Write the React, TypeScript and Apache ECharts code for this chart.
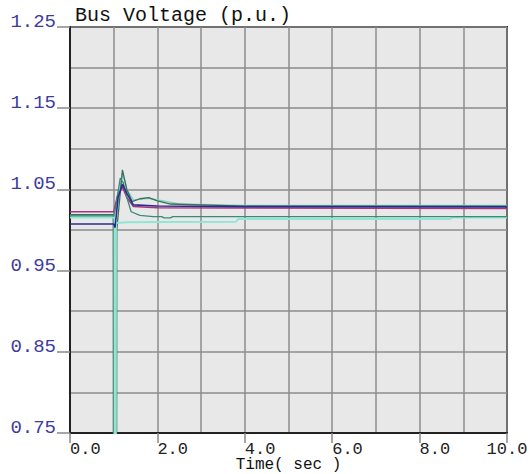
import React, { useEffect, useRef } from "react";
import * as echarts from "echarts";

// Bus voltage traces (time in s, voltage in p.u.)
const busA: [number, number][] = [
  [0, 1.0225], [1.0, 1.0225], [1.1, 1.045], [1.2, 1.053], [1.3, 1.04],
  [1.45, 1.029], [2.0, 1.0275], [4.0, 1.027], [7.0, 1.0268], [10.0, 1.0265],
];
const busB: [number, number][] = [
  [0, 1.0074], [1.0, 1.0074], [1.03, 1.003], [1.1, 1.04], [1.2, 1.0566],
  [1.3, 1.045], [1.45, 1.031], [2.0, 1.0295], [4.0, 1.0288], [10.0, 1.0285],
];
const busC: [number, number][] = [
  [0, 1.019], [0.99, 1.019], [0.995, 0.5], [1.065, 0.5], [1.07, 1.0],
  [1.2, 1.074], [1.3, 1.05], [1.42, 1.035], [1.6, 1.0385], [1.8, 1.0398],
  [2.0, 1.036], [2.3, 1.032], [3.0, 1.031], [4.0, 1.0295], [10.0, 1.0295],
];
const busD: [number, number][] = [
  [0, 1.0175], [1.0, 1.0175], [1.05, 1.03], [1.15, 1.064], [1.22, 1.058],
  [1.3, 1.04], [1.4, 1.0225], [1.6, 1.018], [1.9, 1.0165], [2.1, 1.0165],
  [2.15, 1.015], [2.3, 1.015], [2.35, 1.0165], [10.0, 1.0165],
];
const busE: [number, number][] = [
  [0, 1.018], [1.0, 1.018], [1.08, 1.03], [1.2, 1.07], [1.3, 1.05],
  [1.45, 1.037], [1.8, 1.039], [2.5, 1.032], [4.0, 1.0302], [10.0, 1.0302],
];
const busF: [number, number][] = [
  [0, 1.0155], [1.02, 1.0155], [1.025, 0.5], [1.045, 0.5], [1.05, 1.0085],
  [1.3, 1.0095], [2.0, 1.01], [3.8, 1.0103], [3.85, 1.0135], [8.7, 1.0135],
  [8.75, 1.0155], [10.0, 1.0155],
];

const seriesList = [
  { name: "Bus A", data: busA, color: "#a8337f", width: 1.5 },
  { name: "Bus E", data: busE, color: "#7fd6c4", width: 1.5 },
  { name: "Bus C", data: busC, color: "#3b6e55", width: 1.3 },
  { name: "Bus F", data: busF, color: "#8fe6d2", width: 2 },
  { name: "Bus D", data: busD, color: "#3a8a7a", width: 1.3 },
  { name: "Bus B", data: busB, color: "#2b2b8f", width: 1.6 },
];

const MONO = "'Liberation Mono', 'DejaVu Sans Mono', monospace";

export default function App() {
  const ref = useRef<HTMLDivElement>(null);

  useEffect(() => {
    if (!ref.current) return;
    const chart = echarts.init(ref.current, null, { renderer: "svg" });
    chart.setOption({
      animation: false,
      backgroundColor: "#ffffff",
      title: {
        text: "Bus Voltage (p.u.)",
        left: 70,
        top: 0,
        textStyle: { fontFamily: MONO, fontSize: 20, fontWeight: "normal", color: "#111" },
      },
      grid: {
        left: 70,
        right: 23,
        top: 27,
        bottom: 41,
        outerBoundsMode: "none",
        show: true,
        backgroundColor: "#e8e8e8",
        borderColor: "#222",
        borderWidth: 2,
      },
      xAxis: {
        type: "value",
        min: 0,
        max: 10,
        interval: 2,
        name: "Time( sec )",
        nameLocation: "middle",
        nameGap: 26,
        nameMoveOverlap: false,
        nameTextStyle: { fontFamily: MONO, fontSize: 16, lineHeight: 12, color: "#111" },
        axisLine: { show: true, lineStyle: { color: "#222", width: 2 } },
        axisTick: { show: true, length: 10, lineStyle: { color: "#888", width: 1.5 } },
        axisLabel: {
          formatter: (v: number) => v.toFixed(1),
          align: "left",
          alignMaxLabel: "center",
          margin: 10,
          lineHeight: 12,
          fontFamily: MONO,
          fontSize: 17,
          color: "#222",
        },
        splitLine: { show: true, lineStyle: { color: "#8c8c8c", width: 1.5 } },
        minorTick: { show: false, splitNumber: 2 },
        minorSplitLine: { show: true, lineStyle: { color: "#8c8c8c", width: 1.5 } },
      },
      yAxis: {
        type: "value",
        min: 0.75,
        max: 1.25,
        interval: 0.1,
        axisLine: { show: true, lineStyle: { color: "#222", width: 2 } },
        axisTick: { show: true, length: 13, lineStyle: { color: "#888", width: 1.5 } },
        axisLabel: {
          formatter: (v: number) => v.toFixed(2),
          verticalAlign: "bottom",
          lineHeight: 10,
          margin: 14,
          fontFamily: MONO,
          fontSize: 19,
          color: "#3c3ca0",
        },
        splitLine: { show: true, lineStyle: { color: "#8c8c8c", width: 1.5 } },
        minorTick: { show: false, splitNumber: 2 },
        minorSplitLine: { show: true, lineStyle: { color: "#8c8c8c", width: 1.5 } },
      },
      series: seriesList.map((s) => ({
        type: "line",
        name: s.name,
        data: s.data,
        showSymbol: false,
        clip: true,
        lineStyle: { color: s.color, width: s.width },
        itemStyle: { color: s.color },
      })),
    });
    return () => chart.dispose();
  }, []);

  return (
    <div
      ref={ref}
      style={{ position: "fixed", left: 0, top: 0, width: 530, height: 474 }}
    />
  );
}
